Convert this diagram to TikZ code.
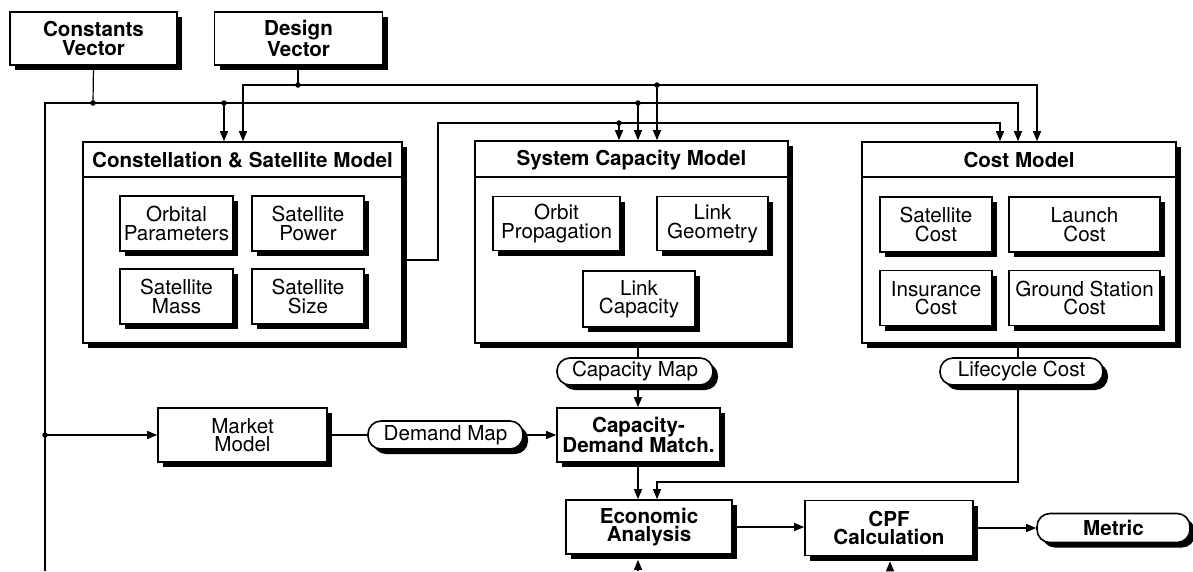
\documentclass[tikz,border=0pt]{standalone}
\usepackage{fontspec}
\setmainfont{TeX Gyre Heros}
\usetikzlibrary{arrows.meta,shadows,calc}
\begin{document}
\begin{tikzpicture}[x=1pt,y=-1pt,
  txt/.style={font=\fontsize{20.6}{18.5}\selectfont},
  btxt/.style={font=\bfseries\fontsize{20.6}{18.5}\selectfont},
  box/.style={draw, line width=1.6pt, fill=white, align=center, inner sep=0pt, txt,
    drop shadow={shadow xshift=5pt, shadow yshift=-5pt, opacity=1, fill=black}},
  bbox/.style={box, btxt},
  pill/.style={box, rounded corners=13pt},
  bpill/.style={pill, btxt},
  conn/.style={line width=1.2pt},
  arr/.style={conn, -{Triangle[length=10pt,width=8pt]}},
  dot/.style={circle, fill, inner sep=0pt, minimum size=5.5pt},
  sep/.style={line width=1.2pt}
]
\useasboundingbox (0,0) rectangle (1193,571);
\fill[white] (0,0) rectangle (1193,571);

% top inputs
\node[bbox, minimum width=167pt, minimum height=53pt] (cv) at (93.5,38.5) {Constants\\Vector};
\node[bbox, minimum width=168pt, minimum height=53pt] (dv) at (298.5,38.5) {Design\\Vector};

% Constellation & Satellite Model
\node[box, minimum width=319pt, minimum height=201pt] (csm) at (242.5,242.5) {};
\node[btxt] (csmT) at (242.5,160) {Constellation \& Satellite Model};
\coordinate (s1) at (0,177);
\draw[sep] (csm.west |- s1) -- (csm.east |- s1);
\node[box, minimum width=113pt, minimum height=55pt] (op) at (176.5,223.5) {Orbital\\Parameters};
\node[box, minimum width=112pt, minimum height=55pt] (sp) at (308,223.5) {Satellite\\Power};
\node[box, minimum width=113pt, minimum height=55pt] (sm) at (176.5,296.5) {Satellite\\Mass};
\node[box, minimum width=112pt, minimum height=55pt] (ss) at (308,296.5) {Satellite\\Size};

% System Capacity Model
\node[box, minimum width=313pt, minimum height=202pt] (sc) at (631.5,242) {};
\node[btxt] (scT) at (631.5,160) {System Capacity Model};
\draw[sep] (sc.west |- s1) -- (sc.east |- s1);
\node[box, minimum width=127pt, minimum height=54pt] (orp) at (556.5,223.5) {Orbit\\Propagation};
\node[box, minimum width=111pt, minimum height=54pt] (lg) at (712.5,223.5) {Link\\Geometry};
\node[box, minimum width=112pt, minimum height=56pt] (lc) at (639,299) {Link\\Capacity};

% Cost Model
\node[box, minimum width=314pt, minimum height=201pt] (cost) at (1019,242.5) {};
\node[btxt] (costT) at (1019,160) {Cost Model};
\draw[sep] (cost.west |- s1) -- (cost.east |- s1);
\node[box, minimum width=112pt, minimum height=55pt] (sac) at (936,224.5) {Satellite\\Cost};
\node[box, minimum width=151pt, minimum height=55pt] (lac) at (1084.5,224.5) {Launch\\Cost};
\node[box, minimum width=112pt, minimum height=55pt] (inc) at (936,298) {Insurance\\Cost};
\node[box, minimum width=151pt, minimum height=55pt] (gsc) at (1084.5,298) {Ground Station\\Cost};

% pills and lower boxes
\node[pill, minimum width=156pt, minimum height=27pt] (capmap) at (635,371.5) {Capacity Map};
\node[pill, minimum width=163pt, minimum height=27pt] (life) at (1021.5,371.5) {Lifecycle Cost};
\node[box, minimum width=169pt, minimum height=54pt] (mm) at (242.5,435) {Market\\Model};
\node[pill, minimum width=155pt, minimum height=28pt] (dm) at (445.5,435) {Demand Map};
\node[bbox, minimum width=163pt, minimum height=54pt] (cdm) at (638.5,435) {Capacity-\\Demand Match.};
\node[bbox, minimum width=166pt, minimum height=54pt] (econ) at (649,527) {Economic\\Analysis};
\node[bbox, minimum width=168pt, minimum height=55pt] (cpf) at (889,528) {CPF\\Calculation};
\node[bpill, minimum width=153pt, minimum height=29pt] (met) at (1113.5,528) {Metric};

% constants bus
\node[dot] (cj) at (93,103) {};
\draw[conn] (cv.south) -- (cj.center);
\coordinate (cbL) at (45,103);
\coordinate (cbB) at (45,571);
\coordinate (cbR) at (1018,103);
\draw[arr] (cbB) -- (cbL) -- (cbR) -- (cbR |- cost.north);
\node[dot] (d1) at (224,103) {};
\draw[arr] (d1.center) -- (d1 |- csm.north);
\node[dot] (d2) at (638,103) {};
\draw[arr] (d2.center) -- (d2 |- sc.north);
\node[dot] (d5) at (45,435) {};
\draw[arr] (d5.center) -- (mm.west);

% design bus
\node[dot] (dj) at (298,85) {};
\draw[conn] (dv.south -| dj) -- (dj.center);
\coordinate (dbL) at (243,85);
\coordinate (dbR) at (1037,85);
\draw[arr] (dj.center) -- (dbL) -- (dbL |- csm.north);
\draw[arr] (dj.center) -- (dbR) -- (dbR |- cost.north);
\node[dot] (d3) at (657,85) {};
\draw[arr] (d3.center) -- (d3 |- sc.north);

% constellation output
\coordinate (o1) at (438,260);
\coordinate (o2) at (438,123);
\coordinate (o3) at (1000,123);
\draw[arr] (csm.east |- o1) -- (o1) -- (o2) -- (o3) -- (o3 |- cost.north);
\node[dot] (d4) at (619,123) {};
\draw[arr] (d4.center) -- (d4 |- sc.north);

% capacity chain
\coordinate (cx) at (638,0);
\draw[conn] (sc.south -| cx) -- (capmap.north -| cx);
\draw[arr] (capmap.south -| cx) -- (cdm.north -| cx);
\draw[arr] (cdm.south -| cx) -- (econ.north -| cx);
\draw[conn] (mm.east) -- (dm.west);
\draw[arr] (dm.east) -- (cdm.west);

% lifecycle cost
\coordinate (lx) at (1018,0);
\draw[conn] (cost.south -| lx) -- (life.north -| lx);
\coordinate (l1) at (1018,482);
\coordinate (l2) at (657,482);
\draw[arr] (life.south -| lx) -- (l1) -- (l2) -- (l2 |- econ.north);

% economic, cpf, metric
\draw[arr] (econ.east) -- (econ.east -| cpf.west);
\draw[arr] (cpf.east) -- (met.west);
\coordinate (b1) at (638,571);
\coordinate (b2) at (890,571);
\draw[arr] (b1) -- ($(econ.south -| b1)+(0,5)$);
\draw[arr] (b2) -- ($(cpf.south -| b2)+(0,5)$);
\end{tikzpicture}
\end{document}
